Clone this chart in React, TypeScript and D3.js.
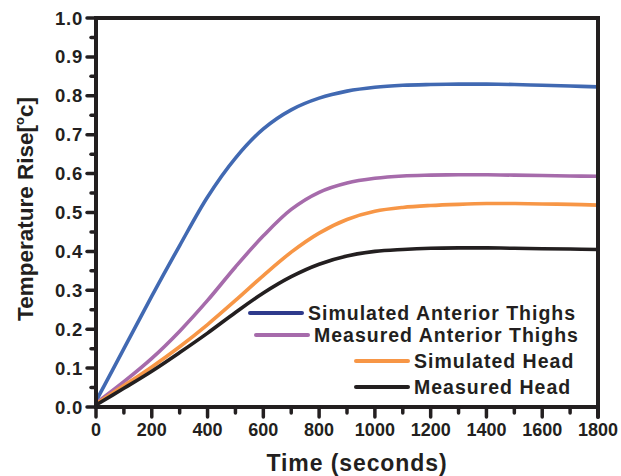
import React from 'react';
import * as d3 from 'd3';

const times = [0, 100, 200, 300, 400, 500, 600, 700, 800, 900, 1000, 1100, 1200, 1300, 1400, 1500, 1600, 1700, 1800];

const simThighs = [0.015, 0.15, 0.285, 0.415, 0.54, 0.64, 0.715, 0.764, 0.794, 0.812, 0.822, 0.827, 0.829, 0.83, 0.83, 0.829, 0.827, 0.825, 0.823];
const measThighs = [0.01, 0.065, 0.125, 0.195, 0.274, 0.36, 0.44, 0.508, 0.552, 0.576, 0.588, 0.594, 0.596, 0.597, 0.597, 0.596, 0.595, 0.594, 0.593];
const simHead = [0.008, 0.055, 0.103, 0.155, 0.212, 0.274, 0.338, 0.398, 0.447, 0.482, 0.503, 0.513, 0.518, 0.521, 0.523, 0.523, 0.522, 0.521, 0.519];
const measHead = [0.005, 0.048, 0.092, 0.14, 0.19, 0.243, 0.293, 0.335, 0.367, 0.388, 0.4, 0.405, 0.408, 0.409, 0.409, 0.408, 0.407, 0.406, 0.405];

const seriesNames = ['Simulated Anterior Thighs', 'Measured Anterior Thighs', 'Simulated Head', 'Measured Head'];
const seriesValues = [simThighs, measThighs, simHead, measHead];
const lineColors = ['#4169b2', '#a66bab', '#f79646', '#231f20'];
const legendColors = ['#2e3a8c', '#a66bab', '#f79646', '#231f20'];

const xTicks = [0, 200, 400, 600, 800, 1000, 1200, 1400, 1600, 1800];
const xMinor = [100, 300, 500, 700, 900, 1100, 1300, 1500, 1700];
const yTicks = [0, 0.1, 0.2, 0.3, 0.4, 0.5, 0.6, 0.7, 0.8, 0.9, 1.0];
const yMinor = [0.05, 0.15, 0.25, 0.35, 0.45, 0.55, 0.65, 0.75, 0.85, 0.95];

const W = 621;
const H = 476;
const font = 'Arial, "Liberation Sans", Helvetica, sans-serif';

// legend rows: line start x, row y
const legendRows = [
  { x: 250, ty: 313 },
  { x: 256, ty: 335 },
  { x: 356, ty: 361 },
  { x: 356, ty: 387 },
];

const App = () => {
  const x = d3.scaleLinear().domain([0, 1800]).range([96, 598]);
  const y = d3.scaleLinear().domain([0, 1]).range([407, 18]);

  const line = d3.line<number>()
    .x((_, i) => x(times[i]))
    .y(d => y(d))
    .curve(d3.curveCatmullRom.alpha(0.5));

  const textColor = '#231f20';

  return (
    <svg width={W} height={H} style={{ position: 'absolute', left: 0, top: 0, fontFamily: font }}>
      <rect width={W} height={H} fill="#fff" />

      {/* curves */}
      {seriesValues.map((vals, i) => (
        <path key={seriesNames[i]} d={line(vals) || ''} fill="none" stroke={lineColors[i]} strokeWidth={3.6} />
      ))}

      {/* frame */}
      <line x1={x(0)} x2={x(1800)} y1={y(1)} y2={y(1)} stroke={textColor} strokeWidth={4} strokeLinecap="square" />
      <line x1={x(1800)} x2={x(1800)} y1={y(1)} y2={y(0) + 10} stroke={textColor} strokeWidth={4} strokeLinecap="round" />
      <line x1={x(0)} x2={x(1800)} y1={y(0)} y2={y(0)} stroke={textColor} strokeWidth={4} strokeLinecap="square" />
      <line x1={x(0)} x2={x(0)} y1={y(1)} y2={y(0)} stroke={textColor} strokeWidth={4} strokeLinecap="square" />

      {/* y ticks */}
      {yTicks.map(t => (
        <g key={`y${t}`}>
          <line x1={x(0) - 9} x2={x(0)} y1={y(t)} y2={y(t)} stroke={textColor} strokeWidth={3.5} strokeLinecap="round" />
          <text x={83} y={y(t) + 6.5} textAnchor="end" fontSize={18.5} fontWeight="bold" fill={textColor} letterSpacing={0.8}>
            {t.toFixed(1)}
          </text>
        </g>
      ))}
      {yMinor.map(t => (
        <line key={`ym${t}`} x1={x(0) - 5} x2={x(0)} y1={y(t)} y2={y(t)} stroke={textColor} strokeWidth={3.5} strokeLinecap="round" />
      ))}

      {/* x ticks */}
      {xTicks.map(t => (
        <g key={`x${t}`}>
          <line x1={x(t)} x2={x(t)} y1={y(0)} y2={y(0) + 10} stroke={textColor} strokeWidth={3.5} strokeLinecap="round" />
          <text x={x(t)} y={436} textAnchor="middle" fontSize={18} fontWeight="bold" fill={textColor}>
            {t}
          </text>
        </g>
      ))}
      {xMinor.map(t => (
        <line key={`xm${t}`} x1={x(t)} x2={x(t)} y1={y(0)} y2={y(0) + 6} stroke={textColor} strokeWidth={3.5} strokeLinecap="round" />
      ))}

      {/* axis titles */}
      <text x={357} y={471} textAnchor="middle" fontSize={23} fontWeight="bold" fill={textColor} letterSpacing={0.9}>
        Time (seconds)
      </text>
      <text transform={`translate(33, 209) rotate(-90)`} textAnchor="middle" fontSize={22.5} fontWeight="bold" fill={textColor}>
        Temperature Rise[<tspan fontSize={13} dy={-9}>o</tspan><tspan dy={9}>c]</tspan>
      </text>

      {/* legend */}
      {legendRows.map((r, i) => (
        <g key={`leg${i}`}>
          <line x1={r.x} x2={r.x + 52} y1={r.ty} y2={r.ty} stroke={legendColors[i]} strokeWidth={4} strokeLinecap="round" />
          <text x={r.x + 58} y={r.ty + 7} fontSize={19.5} fontWeight="bold" fill={textColor} letterSpacing={1}>
            {seriesNames[i]}
          </text>
        </g>
      ))}
    </svg>
  );
};

export default App;
